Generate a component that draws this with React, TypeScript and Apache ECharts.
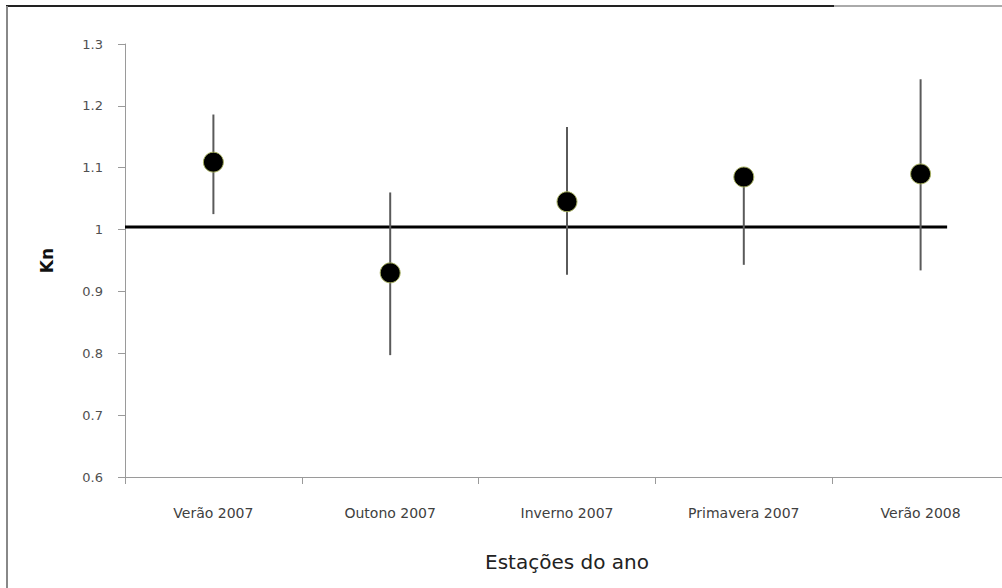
import React, { useEffect, useRef } from "react";
import * as echarts from "echarts";

const categories = ["Verão 2007", "Outono 2007", "Inverno 2007", "Primavera 2007", "Verão 2008"];
const means = [1.109, 0.930, 1.045, 1.085, 1.090];
const lower = [1.025, 0.797, 0.927, 0.943, 0.934];
const upper = [1.186, 1.060, 1.166, 1.090, 1.243];
const referenceValue = 1.004;
const yTicks = { min: 0.6, max: 1.3, interval: 0.1 };

export default function App() {
  const ref = useRef<HTMLDivElement>(null);
  useEffect(() => {
    if (!ref.current) return;
    const chart = echarts.init(ref.current, null, { renderer: "svg" });
    const font = "DejaVu Sans";
    chart.setOption({
      animation: false,
      backgroundColor: "#ffffff",
      grid: { left: 125, top: 44, right: 0, bottom: 111 },
      xAxis: {
        type: "category",
        data: categories,
        boundaryGap: true,
        name: "Estações do ano",
        nameLocation: "middle",
        nameGap: 75,
        nameTextStyle: { fontFamily: font, fontSize: 20, color: "#222" },
        axisLine: { lineStyle: { color: "#9a9a9a", width: 1 } },
        axisTick: { show: true, length: 7, lineStyle: { color: "#9a9a9a" } },
        axisLabel: { margin: 29, fontFamily: font, fontSize: 14, color: "#404040" },
        splitLine: { show: false },
      },
      yAxis: {
        type: "value",
        min: yTicks.min,
        max: yTicks.max,
        interval: yTicks.interval,
        name: "Kn",
        nameLocation: "middle",
        nameRotate: 90,
        nameGap: 70,
        nameTextStyle: { fontFamily: font, fontSize: 17, fontWeight: "bold", color: "#111" },
        axisLine: { show: true, lineStyle: { color: "#9a9a9a", width: 1 } },
        axisTick: { show: true, length: 7, lineStyle: { color: "#9a9a9a" } },
        axisLabel: { margin: 22, fontFamily: font, fontSize: 13, color: "#505050" },
        splitLine: { show: false },
      },
      graphic: [
        { type: "line", shape: { x1: 6, y1: 6, x2: 834, y2: 6 }, style: { stroke: "#222", lineWidth: 2 } },
        { type: "line", shape: { x1: 834, y1: 6, x2: 1009, y2: 6 }, style: { stroke: "#aaaaaa", lineWidth: 2 } },
        { type: "line", shape: { x1: 7, y1: 6, x2: 7, y2: 588 }, style: { stroke: "#888888", lineWidth: 2 } },
      ],
      series: [
        {
          type: "custom",
          name: "ref",
          data: [[0, referenceValue]],
          z: 2,
          renderItem: (params: any, api: any) => {
            const cs = params.coordSys;
            const p = api.coord([0, api.value(1)]);
            return {
              type: "line",
              shape: { x1: cs.x, y1: p[1], x2: cs.x + cs.width * 0.93, y2: p[1] },
              style: { stroke: "#000", lineWidth: 3 },
            };
          },
        },
        {
          type: "custom",
          name: "err",
          data: categories.map((_, i) => [i, lower[i], upper[i]]),
          z: 3,
          renderItem: (params: any, api: any) => {
            const lo = api.coord([api.value(0), api.value(1)]);
            const hi = api.coord([api.value(0), api.value(2)]);
            return {
              type: "line",
              shape: { x1: lo[0], y1: lo[1], x2: hi[0], y2: hi[1] },
              style: { stroke: "#5a5a5a", lineWidth: 2 },
            };
          },
        },
        {
          type: "scatter",
          data: means,
          symbol: "circle",
          symbolSize: 20,
          z: 5,
          itemStyle: { color: "#000", borderColor: "#a7b060", borderWidth: 1, opacity: 1 },
        },
      ],
    });
    return () => chart.dispose();
  }, []);
  return (
    <div style={{ position: "fixed", left: 0, top: 0, width: 1002, height: 588, overflow: "hidden", background: "#fff" }}>
      <div ref={ref} style={{ width: 1009, height: 588 }} />
    </div>
  );
}
